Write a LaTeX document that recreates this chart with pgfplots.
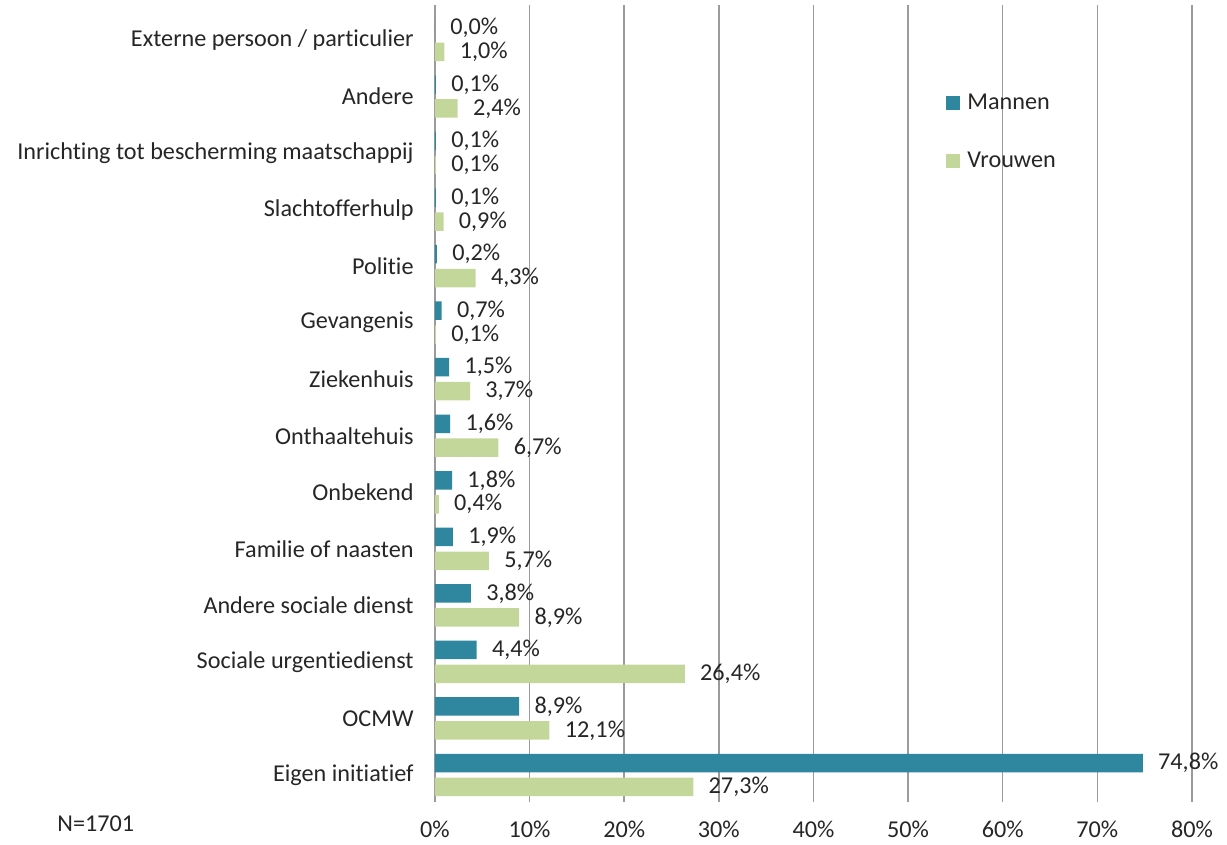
\documentclass[border=0pt]{standalone}
\usepackage{pgfplots}
\usepackage{pgfplotstable}
\pgfplotsset{compat=1.18}
\usepackage{fontspec}
\setmainfont{Carlito}[Ligatures=NoCommon]
\definecolor{mannen}{RGB}{46,135,158}
\definecolor{vrouwen}{RGB}{196,215,155}
\definecolor{txt}{RGB}{38,38,38}
\definecolor{gridc}{RGB}{155,155,155}

\pgfplotstableread{
y m v
0 74.8 27.3
1 8.9 12.1
2 4.4 26.4
3 3.8 8.9
4 1.9 5.7
5 1.8 0.4
6 1.6 6.7
7 1.5 3.7
8 0.7 0.1
9 0.2 4.3
10 0.1 0.9
11 0.1 0.1
12 0.1 2.4
13 0.0 1.0
}\data

\begin{document}
\begin{tikzpicture}
\path[use as bounding box] (0,0) rectangle (613.5pt,422.5pt);
\begin{axis}[
  at={(217.5pt,24pt)}, anchor=south west,
  scale only axis, width=378.5pt, height=393.5pt,
  xbar, bar width=0.327,
  xmin=0, xmax=80, ymin=-0.389, ymax=13.53,
  xtick={0,10,...,80},
  xticklabel={\pgfmathprintnumber{\tick}\%},
  ytick={0,...,13},
  yticklabels={Eigen initiatief, OCMW, Sociale urgentiedienst, Andere sociale dienst, Familie of naasten, Onbekend, Onthaaltehuis, Ziekenhuis, Gevangenis, Politie, Slachtofferhulp, Inrichting tot bescherming maatschappij, Andere, Externe persoon / particulier},
  /pgf/number format/assume math mode=true,
  axis line style={draw=none},
  xmajorgrids, grid style={gridc, line width=0.75pt},
  x tick style={gridc, line width=0.75pt},
  major tick length=2.5pt, tick align=outside,
  y tick style={draw=none},
  tick label style={font=\fontsize{12.1}{14.5}\selectfont, text=txt},
  yticklabel style={anchor=east, inner sep=0pt, xshift=-8pt},
  xticklabel style={anchor=base, inner sep=0pt, yshift=-18pt},
  nodes near coords={\pgfmathprintnumber[fixed, fixed zerofill, precision=1, use comma]{\pgfplotspointmeta}\%},
  nodes near coords style={anchor=west, inner sep=0pt, xshift=7.5pt, font=\fontsize{12.1}{14.5}\selectfont, text=txt},
  point meta=x,
  legend style={draw=none, fill=none, at={(axis description cs:0.667,0.90)}, anchor=north west,
    nodes={text height=8pt, text depth=2pt, inner sep=0pt, font=\fontsize{12.1}{14.5}\selectfont, text=txt},
    row sep=19pt, column sep=3.5pt},
  legend cell align=left,
  legend image code/.code={\fill[#1] (0pt,-3.5pt) rectangle (7pt,3.5pt);},
]
\addplot[fill=mannen, draw=none, bar shift=0.212] table[x=m, y=y] {\data};
\addlegendentry{Mannen}
\addplot[fill=vrouwen, draw=none, bar shift=-0.212] table[x=v, y=y] {\data};
\addlegendentry{Vrouwen}
\end{axis}
\node[anchor=base west, inner sep=0pt, text=txt, font=\fontsize{12.1}{14.5}\selectfont] at (28.5pt,6.5pt) {N=1701};
\end{tikzpicture}
\end{document}
